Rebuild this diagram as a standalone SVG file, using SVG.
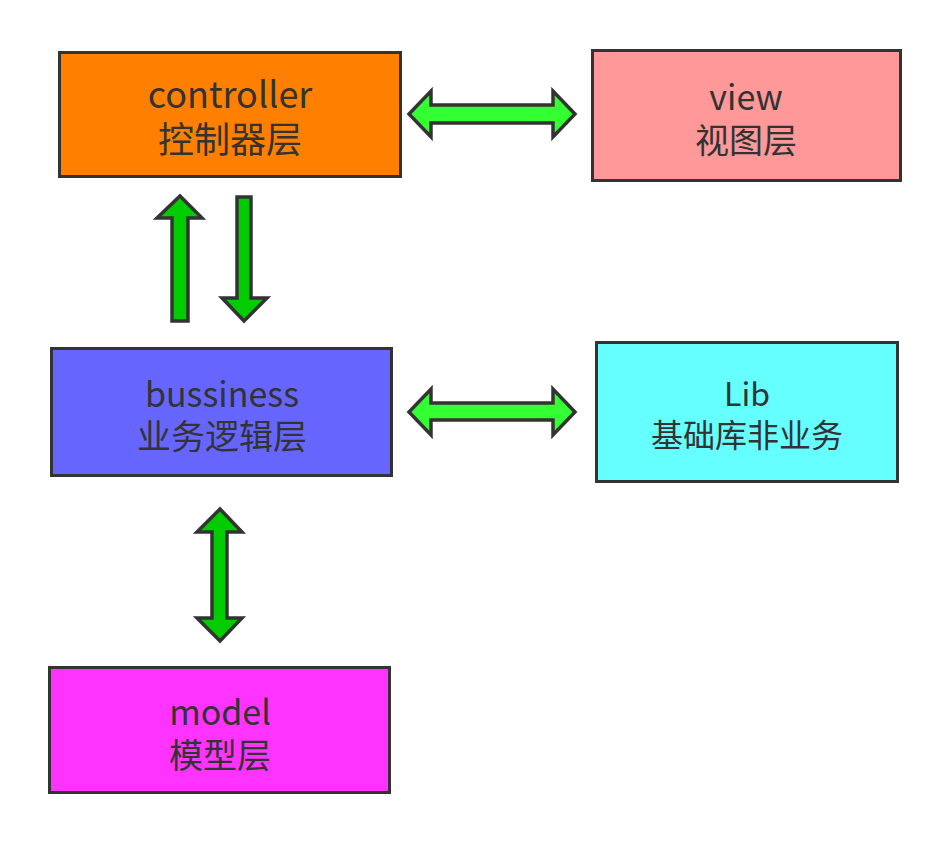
<svg xmlns="http://www.w3.org/2000/svg" width="949" height="842" viewBox="0 0 949 842">
<style>
.box{stroke:#333333;stroke-width:3}
.t{font-family:"Noto Sans CJK SC","Noto Sans",sans-serif;fill:#333333;text-anchor:middle}
.ah{fill:#33FF33;stroke:#333333;stroke-width:3.5;stroke-linejoin:miter}
.av{fill:#00CC00;stroke:#333333;stroke-width:3.5;stroke-linejoin:miter}
</style>
<rect width="949" height="842" fill="#ffffff"/>
<g id="controller">
<rect class="box" x="59.5" y="52.5" width="341" height="124" fill="#FF8000"/>
<text class="t" x="230" y="108" font-size="36">controller</text>
<text class="t" x="230" y="153" font-size="36">控制器层</text>
</g>
<g id="view">
<rect class="box" x="592.5" y="50.5" width="308" height="130" fill="#FF9999"/>
<text class="t" x="746" y="110" font-size="34">view</text>
<text class="t" x="746" y="153" font-size="34">视图层</text>
</g>
<g id="bussiness">
<rect class="box" x="51.5" y="348.5" width="340" height="127" fill="#6666FF"/>
<text class="t" x="222" y="407" font-size="34">bussiness</text>
<text class="t" x="222" y="449" font-size="34">业务逻辑层</text>
</g>
<g id="lib">
<rect class="box" x="596.5" y="342.5" width="301" height="139" fill="#66FFFF"/>
<text class="t" x="747" y="406" font-size="32">Lib</text>
<text class="t" x="747" y="447" font-size="32">基础库非业务</text>
</g>
<g id="model">
<rect class="box" x="49.5" y="667.5" width="340" height="125" fill="#FF33FF"/>
<text class="t" x="220" y="725" font-size="34">model</text>
<text class="t" x="220" y="768" font-size="34">模型层</text>
</g>
<g id="connectors">
<polygon class="ah" points="409,114 431,91 431,105 553,105 553,91 575,114 553,137 553,123 431,123 431,137"/>
<polygon class="ah" points="409,412 431,389 431,403 553,403 553,389 575,412 553,435 553,420 431,420 431,435"/>
<polygon class="av" points="180,196 202,218 188,218 188,321 172,321 172,218 157,218"/>
<polygon class="av" points="244,321 267,298 251,298 251,197 237,197 237,298 222,298"/>
<polygon class="av" points="220,509 242,532 227,532 227,618 242,618 220,641 197,618 212,618 212,532 197,532"/>
</g>
</svg>
